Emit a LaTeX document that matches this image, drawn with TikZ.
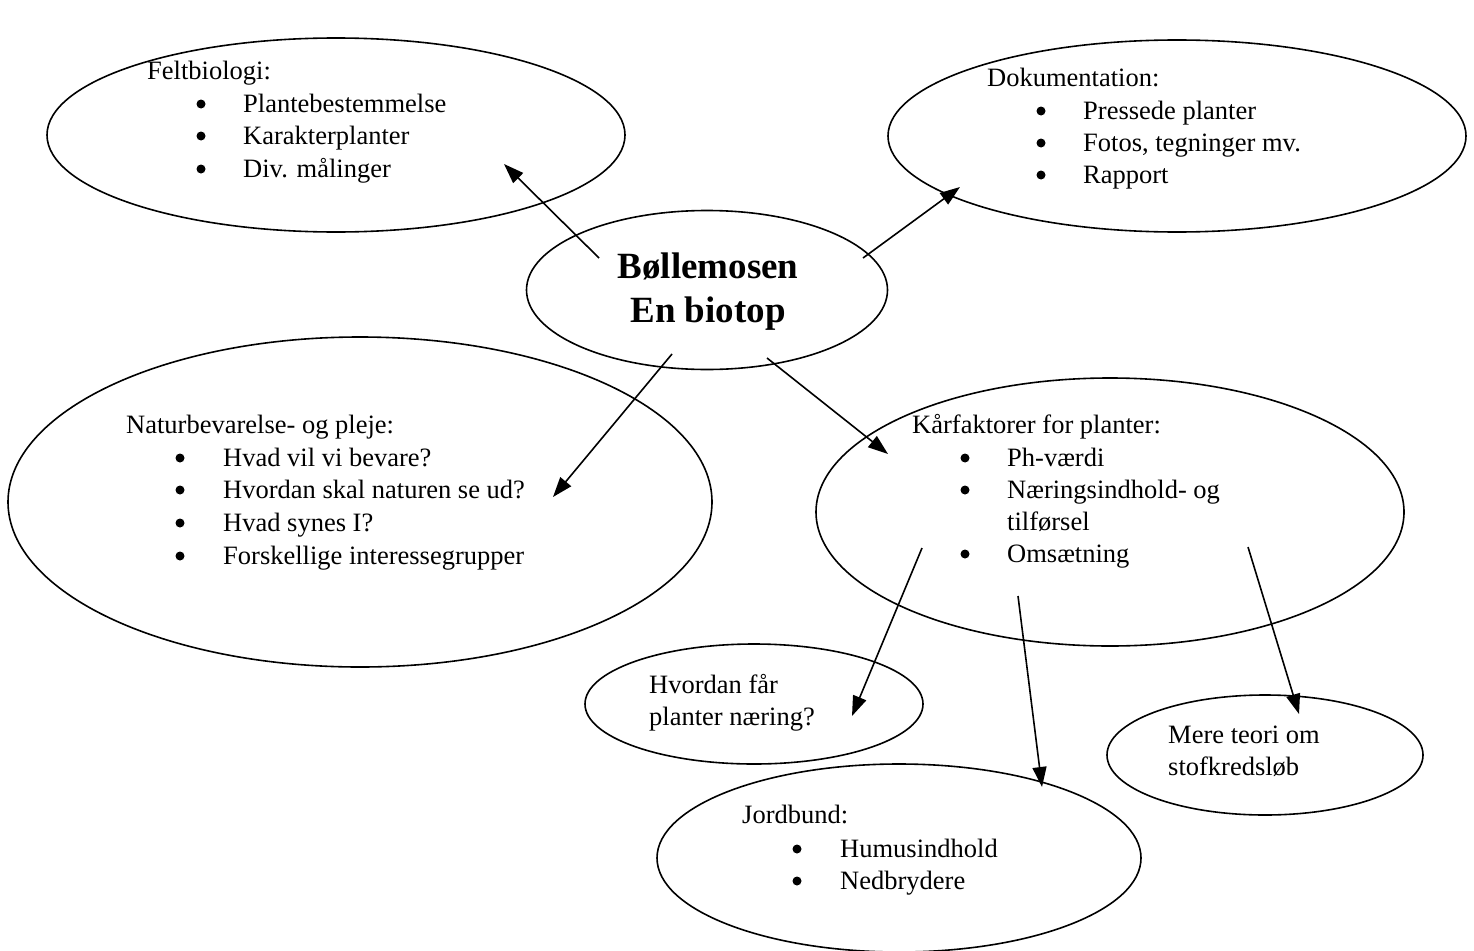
\documentclass[tikz,border=0pt]{standalone}
\usepackage{fontspec}
\setmainfont{Liberation Serif}
\usetikzlibrary{shapes.geometric,arrows.meta}
\tikzset{
  oval/.style={draw, ellipse, line width=1.6pt, inner sep=0pt},
  txt/.style={anchor=base west, inner sep=0pt, font=\fontsize{26.5}{32.5}\selectfont},
  bul/.style={circle, fill, inner sep=0pt, minimum size=9pt, yshift=8pt},
  ttl/.style={anchor=base, inner sep=0pt, font=\fontsize{37}{44}\selectfont\bfseries},
  arr/.style={line width=1.6pt, -{Triangle[length=20pt,width=14pt]}}
}
\begin{document}
\begin{tikzpicture}[x=1pt,y=-1pt]
\useasboundingbox (0,0) rectangle (1474,950);
% ellipses
\node[oval, minimum width=578pt, minimum height=194pt] (felt) at (336,135) {};
\node[oval, minimum width=578pt, minimum height=192pt] (dok) at (1177,136) {};
\node[oval, minimum width=361pt, minimum height=159pt] (bol) at (707,290) {};
\node[oval, minimum width=704pt, minimum height=330pt] (nat) at (360,502) {};
\node[oval, minimum width=588pt, minimum height=268pt] (kar) at (1110,512) {};
\node[oval, minimum width=338pt, minimum height=120pt] (hvo) at (754,704) {};
\node[oval, minimum width=316pt, minimum height=120pt] (mer) at (1265,755) {};
\node[oval, minimum width=484pt, minimum height=188pt] (jor) at (899,858) {};
% central text
\node[ttl] (t1) at (708,278) {Bøllemosen};
\node[ttl] (t2) at (708,322) {En biotop};
% Feltbiologi
\node[txt] (f0) at (147,79) {Feltbiologi:};
\node[bul] (fb1) at (201,112) {}; \node[txt] (f1) at (243,112) {Plantebestemmelse};
\node[bul] (fb2) at (201,144) {}; \node[txt] (f2) at (243,144) {Karakterplanter};
\node[bul] (fb3) at (201,177) {}; \node[txt] (f3) at (243,177) {Div. målinger};
% Dokumentation
\node[txt] (d0) at (987,86) {Dokumentation:};
\node[bul] (db1) at (1041,119) {}; \node[txt] (d1) at (1083,119) {Pressede planter};
\node[bul] (db2) at (1041,151) {}; \node[txt] (d2) at (1083,151) {Fotos, tegninger mv.};
\node[bul] (db3) at (1041,183) {}; \node[txt] (d3) at (1083,183) {Rapport};
% Naturbevarelse
\node[txt] (n0) at (126,433) {Naturbevarelse- og pleje:};
\node[bul] (nb1) at (180,466) {}; \node[txt] (n1) at (223,466) {Hvad vil vi bevare?};
\node[bul] (nb2) at (180,498) {}; \node[txt] (n2) at (223,498) {Hvordan skal naturen se ud?};
\node[bul] (nb3) at (180,531) {}; \node[txt] (n3) at (223,531) {Hvad synes I?};
\node[bul] (nb4) at (180,564) {}; \node[txt] (n4) at (223,564) {Forskellige interessegrupper};
% Kaarfaktorer
\node[txt] (k0) at (912,433) {Kårfaktorer for planter:};
\node[bul] (kb1) at (965,466) {}; \node[txt] (k1) at (1007,466) {Ph-værdi};
\node[bul] (kb2) at (965,498) {}; \node[txt] (k2) at (1007,498) {Næringsindhold- og};
\node[txt] (k2b) at (1007,530) {tilførsel};
\node[bul] (kb3) at (965,562) {}; \node[txt] (k3) at (1007,562) {Omsætning};
% Hvordan
\node[txt] (h1) at (649,693) {Hvordan får};
\node[txt] (h2) at (649,725) {planter næring?};
% Mere teori
\node[txt] (m1) at (1168,743) {Mere teori om};
\node[txt] (m2) at (1168,775) {stofkredsløb};
% Jordbund
\node[txt] (j0) at (742,823) {Jordbund:};
\node[bul] (jb1) at (797,857) {}; \node[txt] (j1) at (840,857) {Humusindhold};
\node[bul] (jb2) at (797,889) {}; \node[txt] (j2) at (840,889) {Nedbrydere};
% arrow endpoints
\coordinate (s1) at (599,258); \coordinate (e1) at (504,164);
\coordinate (s2) at (863,258); \coordinate (e2) at (960,187);
\coordinate (s3) at (672,354); \coordinate (e3) at (553,497);
\coordinate (s4) at (767,358); \coordinate (e4) at (888,454);
\coordinate (s5) at (922,548); \coordinate (e5) at (852,716);
\coordinate (s6) at (1018,596); \coordinate (e6) at (1042,787);
\coordinate (s7) at (1248,547); \coordinate (e7) at (1299,714);
\draw[arr] (s1) -- (e1);
\draw[arr] (s2) -- (e2);
\draw[arr] (s3) -- (e3);
\draw[arr] (s4) -- (e4);
\draw[arr] (s5) -- (e5);
\draw[arr] (s6) -- (e6);
\draw[arr] (s7) -- (e7);
\end{tikzpicture}
\end{document}
